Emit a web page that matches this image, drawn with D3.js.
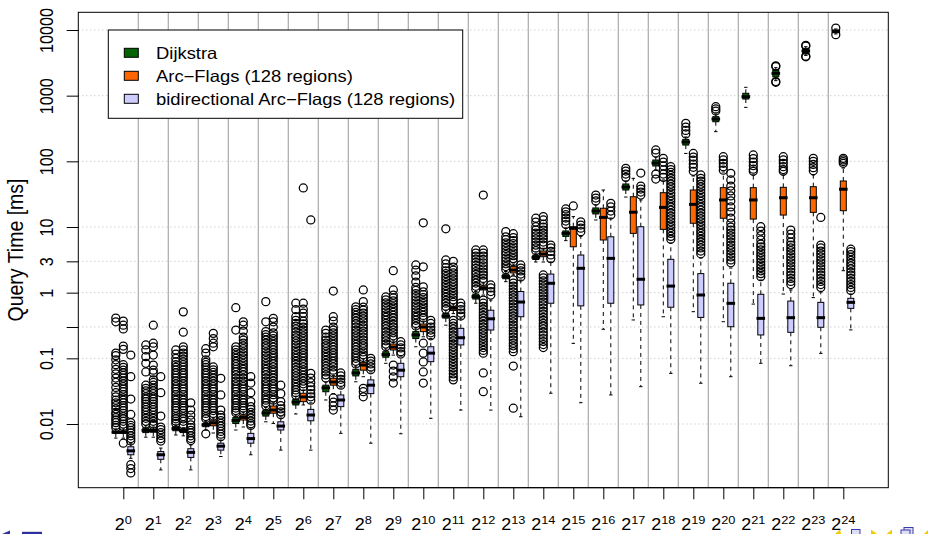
<!DOCTYPE html>
<html><head><meta charset="utf-8">
<script src="https://cdn.jsdelivr.net/npm/d3@7"></script>
<style>body{margin:0;background:#fff}svg{display:block}text{font-family:"Liberation Sans",Arial,Helvetica,sans-serif}</style>
</head><body><svg id="c" width="928" height="534"></svg>
<script>
// ---------- data ----------
const rankExponents = [0,1,2,3,4,5,6,7,8,9,10,11,12,13,14,15,16,17,18,19,20,21,22,23,24];
const seriesNames = ["Dijkstra", "Arc\u2212Flags (128 regions)", "bidirectional Arc\u2212Flags (128 regions)"];
const seriesColors = ["#006400", "#ff6600", "#ccccff"];
const yTickValues = [10000, 1000, 100, 10, 3, 1, 0.3, 0.1, 0.01];
const yTickLabels = ["10000", "1000", "100", "10", "3", "1", "", "0.1", "0.01"];
const yTitle = "Query Time [ms]";

// [lower whisker, Q1, median, Q3, upper whisker] in ms
const dijkstraStats = [
 [0.0061,0.0072,0.0075,0.0078,0.0084],[0.0063,0.0074,0.0080,0.0087,0.0094],[0.0068,0.0079,0.0085,0.0091,0.0097],
 [0.0081,0.0091,0.0097,0.0102,0.011],[0.0081,0.0102,0.0113,0.0125,0.0137],[0.0108,0.0132,0.0147,0.0163,0.0178],
 [0.0142,0.0195,0.0216,0.0238,0.0265],[0.0232,0.031,0.0355,0.039,0.0436],[0.044,0.054,0.060,0.068,0.076],
 [0.084,0.104,0.114,0.126,0.139],[0.15,0.20,0.227,0.255,0.29],[0.32,0.41,0.44,0.48,0.54],
 [0.69,0.80,0.87,0.95,1.04],[1.47,1.63,1.76,1.92,2.1],[2.93,3.2,3.45,3.7,4.0],
 [6.2,7.2,8.0,8.7,9.7],[12.8,15.8,17.5,19.5,21.6],[28.6,36.6,40.6,45.2,50.2],
 [73.8,84.9,94.2,104.8,116],[132,177,197,216,235],[283,401,441,479,526],
 [664,889,965,1087,1341],[1690,1940,2190,2460,2670],[4100,4310,4790,5260,5570],[8700,9100,9550,10000,10360]
];
const arcFlagsStats = [
 [0.0061,0.0072,0.0075,0.0078,0.0084],[0.0063,0.0075,0.0079,0.0083,0.009],[0.0066,0.0074,0.0079,0.0083,0.0088],
 [0.0073,0.0094,0.0104,0.0112,0.0123],[0.009,0.0115,0.0126,0.0137,0.0152],[0.0102,0.0146,0.0163,0.0188,0.021],
 [0.0195,0.0219,0.0258,0.0294,0.033],[0.029,0.039,0.0436,0.0496,0.055],[0.0525,0.066,0.079,0.086,0.098],
 [0.112,0.134,0.148,0.165,0.184],[0.213,0.255,0.30,0.333,0.37],[0.48,0.535,0.58,0.61,0.67],
 [0.92,1.1,1.17,1.26,1.4],[1.86,2.0,2.21,2.49,2.73],[2.93,3.53,3.87,4.31,4.75],
 [0.169,5.0,9.55,10.1,14.4],[0.277,6.34,14.0,19.3,36.6],[0.384,8.0,16.8,28.9,55.1],
 [0.43,9.2,19.9,33.3,52],[0.513,11.4,22.1,36.6,59.8],[0.361,13.6,25.8,39.7,68.8],
 [0.67,13.2,25.8,39.7,62],[0.953,15.2,27.9,40.2,62],[0.84,16.7,27.9,41.1,62],[2.16,17.7,37.6,50.2,79]
];
const biArcFlagsStats = [
 [0.0030,0.0034,0.0039,0.0045,0.0050],[0.0020,0.0029,0.0034,0.0038,0.0043],[0.0020,0.0031,0.0037,0.0042,0.0048],
 [0.0032,0.0040,0.0046,0.0051,0.0057],[0.0034,0.0051,0.0060,0.0072,0.0087],[0.0040,0.0081,0.0093,0.0108,0.0128],
 [0.0040,0.0112,0.0137,0.0167,0.021],[0.0072,0.0184,0.0232,0.0277,0.0355],[0.0051,0.029,0.039,0.047,0.062],
 [0.0071,0.0525,0.066,0.084,0.108],[0.0122,0.089,0.12,0.15,0.20],[0.0163,0.16,0.206,0.286,0.41],
 [0.0163,0.27,0.40,0.54,0.77],[0.0129,0.43,0.72,1.04,1.56],[0.0294,0.69,1.39,1.92,2.93],
 [0.0211,0.63,2.35,3.74,7.2],[0.0277,0.69,3.33,7.1,13.7],[0.037,0.65,1.6,10.1,25.8],
 [0.059,0.6,1.26,3.22,5.7],[0.0417,0.42,0.922,1.95,3.37],[0.0525,0.303,0.688,1.39,2.37],
 [0.084,0.227,0.406,0.944,1.56],[0.0771,0.249,0.416,0.745,1.1],[0.119,0.297,0.416,0.712,1.02],[0.271,0.577,0.712,0.82,0.953]
];

// outliers in ms
const dijkstraOutliers = [
 [0.41,0.36,0.12,0.11,0.095,0.08,0.068,0.058,0.05,0.043,0.036,0.03,0.026,0.023,0.021,0.019,0.017,0.015,0.014,0.0125,0.0115,0.0105,0.0095,0.0088],
 [0.16,0.134,0.106,0.084,0.062,0.039,0.035,0.032,0.029,0.026,0.024,0.022,0.02,0.018,0.0165,0.015,0.0135,0.0122,0.011,0.01],
 [0.134,0.116,0.1,0.088,0.08,0.073,0.066,0.06,0.055,0.05,0.045,0.041,0.037,0.034,0.031,0.028,0.025,0.023,0.021,0.019,0.0175,0.016,0.0145,0.013,0.012,0.011,0.0102],
 [0.14,0.12,0.095,0.087,0.08,0.073,0.066,0.06,0.055,0.05,0.045,0.041,0.037,0.034,0.031,0.028,0.025,0.023,0.021,0.019,0.0175,0.016,0.0145,0.013,0.012,0.0071],
 [0.59,0.27,0.15,0.135,0.122,0.11,0.1,0.09,0.082,0.075,0.068,0.062,0.056,0.05,0.045,0.041,0.037,0.034,0.031,0.028,0.025,0.023,0.021,0.019,0.0175,0.016,0.0148],
 [0.73,0.36,0.255,0.23,0.21,0.19,0.17,0.155,0.14,0.125,0.113,0.102,0.092,0.083,0.075,0.068,0.062,0.056,0.05,0.045,0.041,0.037,0.034,0.031,0.028,0.025,0.023,0.021,0.019],
 [0.69,0.55,0.43,0.38,0.34,0.31,0.28,0.25,0.225,0.205,0.185,0.167,0.15,0.135,0.122,0.11,0.1,0.09,0.081,0.073,0.066,0.06,0.054,0.049,0.044,0.04,0.036,0.033,0.03,0.0275],
 [0.27,0.24,0.21,0.19,0.17,0.155,0.14,0.126,0.114,0.103,0.093,0.084,0.076,0.069,0.062,0.056,0.05],
 [0.61,0.55,0.5,0.45,0.41,0.37,0.335,0.3,0.27,0.245,0.22,0.2,0.18,0.163,0.148,0.134,0.121,0.11,0.1,0.09,0.082],
 [0.86,0.78,0.7,0.63,0.57,0.51,0.46,0.42,0.38,0.34,0.31,0.28,0.25,0.225,0.205,0.185,0.165,0.15],
 [2.64,2.2,1.8,1.45,1.2,1.08,0.97,0.87,0.78,0.7,0.63,0.57,0.51,0.46,0.42,0.38,0.34,0.31],
 [9.4,3.15,2.75,2.4,2.15,1.95,1.75,1.58,1.42,1.28,1.15,1.04,0.94,0.85,0.76,0.69,0.62,0.56],
 [4.47,4.0,3.6,3.25,2.9,2.6,2.35,2.1,1.9,1.7,1.55,1.4,1.25,1.13],
 [8.5,7.1,6.4,5.75,5.2,4.7,4.2,3.8,3.4,3.05,2.75,2.5,2.25],
 [13.6,11.9,10.1,9.0,8.1,7.3,6.6,5.9,5.3,4.8,4.35],
 [18.8,17,15.4,13.7,12.3,10.9],
 [30.7,27.6,24.9],
 [78.3,71,64,57],
 [148.8,133.9,64.1,53.8],
 [379,333,295,261],
 [679,627,582],
 [],
 [2780,2850,1640,1600],
 [5700,5850,4000,3900],
 [10700,8500]
];
const arcFlagsOutliers = [
 [0.37,0.32,0.28,0.154,0.137,0.08,0.073,0.066,0.06,0.055,0.05,0.045,0.041,0.037,0.034,0.031,0.028,0.025,0.023,0.021,0.019,0.0175,0.016,0.0145,0.013,0.012,0.011,0.01,0.0092,0.0051],
 [0.32,0.17,0.15,0.112,0.079,0.066,0.06,0.047,0.043,0.039,0.035,0.032,0.029,0.026,0.024,0.022,0.02,0.018,0.0165,0.015,0.0135,0.0122,0.011,0.01,0.0095],
 [0.51,0.25,0.15,0.134,0.12,0.108,0.097,0.088,0.08,0.073,0.066,0.06,0.055,0.05,0.045,0.041,0.037,0.034,0.031,0.028,0.025,0.023,0.021,0.019,0.0175,0.016,0.0145,0.013,0.012,0.011,0.0097],
 [0.24,0.2,0.17,0.15,0.074,0.067,0.061,0.055,0.05,0.045,0.041,0.037,0.034,0.031,0.028,0.025,0.023,0.021,0.019,0.0175,0.016,0.0145,0.0132],
 [0.36,0.32,0.26,0.21,0.19,0.17,0.155,0.14,0.125,0.113,0.102,0.092,0.083,0.075,0.068,0.062,0.056,0.05,0.045,0.041,0.037,0.034,0.031,0.028,0.025,0.023,0.021,0.019,0.0175,0.016],
 [0.406,0.36,0.30,0.245,0.22,0.2,0.18,0.163,0.148,0.134,0.121,0.11,0.1,0.09,0.082,0.074,0.067,0.061,0.055,0.05,0.045,0.041,0.037,0.034,0.031,0.028,0.025,0.023],
 [39.3,0.69,0.56,0.49,0.43,0.37,0.335,0.3,0.27,0.245,0.22,0.2,0.18,0.163,0.148,0.134,0.121,0.11,0.1,0.09,0.082,0.074,0.067,0.061,0.055,0.05,0.045,0.041,0.037],
 [1.06,0.43,0.37,0.3,0.27,0.245,0.22,0.2,0.18,0.163,0.148,0.134,0.121,0.11,0.1,0.09,0.082,0.074,0.066,0.06,0.0249,0.0215,0.0188,0.0163],
 [1.1,0.73,0.6,0.54,0.49,0.44,0.4,0.36,0.32,0.29,0.26,0.235,0.21,0.19,0.17,0.155,0.14,0.125,0.113,0.103,0.035,0.031,0.026],
 [2.16,1.1,0.92,0.83,0.75,0.68,0.61,0.55,0.5,0.45,0.41,0.37,0.33,0.3,0.27,0.245,0.22,0.2,0.079,0.064,0.052,0.042],
 [11.6,2.48,1.23,1.03,0.93,0.84,0.75,0.68,0.61,0.55,0.5,0.45,0.41,0.17,0.12,0.088,0.062,0.042],
 [3.0,2.45,2.2,2.0,1.8,1.62,1.46,1.32,1.19,1.07,0.97,0.87,0.78,0.71,0.38,0.34,0.31,0.28,0.25,0.225,0.205,0.185,0.165,0.15,0.135,0.122,0.11,0.099,0.089,0.08,0.072,0.065,0.058,0.052,0.047],
 [30.7,4.47,4.0,3.6,3.2,2.85,2.55,2.3,2.05,1.85,1.65,1.48,0.77,0.69,0.62,0.56,0.5,0.45,0.41,0.37,0.33,0.3,0.27,0.245,0.22,0.2,0.18,0.162,0.146,0.132,0.12,0.06,0.031],
 [7.9,6.9,6.2,5.6,5.0,4.5,4.05,3.65,3.3,2.95,1.56,1.4,1.26,1.13,1.02,0.92,0.83,0.75,0.67,0.6,0.54,0.49,0.44,0.4,0.36,0.32,0.29,0.26,0.235,0.21,0.19,0.17,0.155,0.14,0.126,0.0764,0.0174],
 [14.4,12.8,11.1,10,9.0,8.1,7.3,6.6,5.9,5.3,1.86,1.68,1.51,1.36,1.22,1.1,0.99,0.89,0.8,0.72,0.65,0.58,0.52,0.47,0.42,0.38,0.34,0.31,0.28,0.25,0.225,0.2,0.18,0.162,0.146],
 [20.9],
 [],
 [],
 [111,97.6,85,74,64,57],
 [132,116,104,91,81,70.5],
 [117.6,105,93.3,83,73.3],
 [125,110,97.6,86,76,70.5],
 [117.6,105,93.3,83,75,70.5],
 [111,100,89.5,80,72],
 [111,105,99.4,93.3]
];
const biArcFlagsOutliers = [
 [0.112,0.0525,0.024,0.014,0.0105,0.0095,0.0088,0.008,0.0073,0.0066,0.006,0.0055,0.0024,0.0021,0.0018],
 [0.0525,0.03,0.0132,0.009,0.0082,0.0074,0.0067,0.006,0.0055],
 [0.021,0.0163,0.0137,0.0115,0.0097,0.0088,0.008,0.0073,0.0066,0.006,0.0056],
 [0.0496,0.0277,0.0163,0.0137,0.0125,0.0113,0.0102,0.0093,0.0085,0.0077,0.007,0.0064],
 [0.0525,0.042,0.03,0.0219,0.0184,0.0167,0.015,0.0136,0.0123,0.0111,0.0101,0.0095],
 [0.039,0.029,0.022,0.019,0.017,0.0153,0.0138],
 [12.8,0.059,0.05,0.0425,0.037,0.033,0.029,0.026,0.023],
 [0.06,0.054,0.048,0.043,0.039],
 [0.1,0.091,0.082,0.074,0.067],
 [0.179,0.16,0.144,0.126,0.116],
 [0.38,0.34,0.3,0.27,0.245,0.22],
 [0.69,0.62,0.55,0.49,0.44],
 [1.31,1.18,1.04,0.92],
 [2.64,2.37,2.14,1.92,1.73],
 [5.3,4.8,4.25,3.75,3.3],
 [12.0,10.7,9.6,8.5],
 [22.9,20.2,17.5,15.2],
 [66.4,42.1,37.9,34.1,30.7],
 [83,75,68,61,55,50,45,41,37,33,30,27,24.5,22,20,18,16.3,14.7,13.3,12,10.8,9.8,8.8,8.0,7.2,6.5],
 [62,55,50,45,41,37,33,30,27,24.5,22,20,18,16.3,14.7,13.3,12,10.8,9.8,8.8,8.0,7.2,6.5,5.9,5.3,4.8,4.3,3.9],
 [65.7,52,42,35.5,29.7,24.9,20.2,16.9,13.7,11.5,10,9.0,8.1,7.3,6.6,5.9,5.3,4.8,4.35,3.9,3.5,3.15,2.85],
 [10.1,8.66,7.4,6.34,5.5,5.0,4.5,4.05,3.65,3.3,2.95,2.65,2.4,2.15,1.95,1.75],
 [9.0,7.8,6.8,5.9,5.3,4.8,4.35,3.9,3.5,3.15,2.85,2.55,2.3,2.05,1.85,1.65,1.48,1.33],
 [14.0,5.3,4.8,4.3,3.9,3.5,3.15,2.85,2.55,2.3,2.05,1.85,1.65,1.48,1.33,1.2],
 [4.6,4.2,3.8,3.45,3.1,2.8,2.55,2.3,2.05,1.85,1.65,1.48,1.33,1.2,1.08]
];

const seriesStats = [dijkstraStats, arcFlagsStats, biArcFlagsStats];
const seriesOutliers = [dijkstraOutliers, arcFlagsOutliers, biArcFlagsOutliers];

// ---------- layout ----------
const P = {left: 78.3, right: 888.3, top: 12.3, bottom: 487.7};
const SX = 1.13; // horizontal text stretch of the reference
const svg = d3.select("#c");
svg.append("rect").attr("width", 928).attr("height", 534).attr("fill", "#fff");

const y = d3.scaleLog().domain([0.01, 10000]).range([424, 30]);
const x = d3.scaleLinear().domain([0, 24]).range([123.3, 843.3]);
const offsets = [-7.5, 0, 7.5];
const boxHalf = 3, medHalf = 4.3, stapleHalf = 1.7, outR = 4;

// horizontal dotted grid
svg.append("g").selectAll("line").data(yTickValues).join("line")
  .attr("x1", P.left).attr("x2", P.right)
  .attr("y1", d => y(d)).attr("y2", d => y(d))
  .attr("stroke", "#b8b8b8").attr("stroke-width", 1).attr("stroke-dasharray", "1,3");

// vertical separators between groups
svg.append("g").selectAll("line").data(rankExponents.slice(0, -1)).join("line")
  .attr("x1", (d, i) => (x(i) + x(i + 1)) / 2).attr("x2", (d, i) => (x(i) + x(i + 1)) / 2)
  .attr("y1", P.top).attr("y2", P.bottom)
  .attr("stroke", "#aaaaaa").attr("stroke-width", 1.2);

// boxplots
const gb = svg.append("g");
rankExponents.forEach((r, i) => {
  seriesStats.forEach((stats, s) => {
    const [lo, q1, med, q3, hi] = stats[i];
    const cx = x(i) + offsets[s];
    const g = gb.append("g");
    g.append("line").attr("x1", cx).attr("x2", cx).attr("y1", y(q3)).attr("y2", y(hi))
      .attr("stroke", "#000").attr("stroke-dasharray", "4,4");
    g.append("line").attr("x1", cx).attr("x2", cx).attr("y1", y(q1)).attr("y2", y(lo))
      .attr("stroke", "#000").attr("stroke-dasharray", "4,4");
    [lo, hi].forEach(v => g.append("line").attr("x1", cx - stapleHalf).attr("x2", cx + stapleHalf)
      .attr("y1", y(v)).attr("y2", y(v)).attr("stroke", "#000"));
    g.append("rect").attr("x", cx - boxHalf).attr("width", 2 * boxHalf)
      .attr("y", y(q3)).attr("height", Math.max(0.5, y(q1) - y(q3)))
      .attr("fill", seriesColors[s]).attr("stroke", "#000").attr("stroke-width", 1);
    g.append("line").attr("x1", cx - medHalf).attr("x2", cx + medHalf)
      .attr("y1", y(med)).attr("y2", y(med)).attr("stroke", "#000").attr("stroke-width", 3);
    g.selectAll("circle").data(seriesOutliers[s][i]).join("circle")
      .attr("cx", cx).attr("cy", d => y(d)).attr("r", outR)
      .attr("fill", "none").attr("stroke", "#000").attr("stroke-width", 1.25);
  });
});

// legend
const lg = svg.append("g");
lg.append("rect").attr("x", 108.3).attr("y", 30).attr("width", 354.4).attr("height", 88.3)
  .attr("fill", "#fff").attr("stroke", "#000");
seriesNames.forEach((name, s) => {
  const cy = 52.8 + 23 * s;
  lg.append("rect").attr("x", 124.3).attr("y", cy - 4.5).attr("width", 14).attr("height", 9)
    .attr("fill", seriesColors[s]).attr("stroke", "#000");
  lg.append("text").attr("transform", `translate(156,${cy + 5.8}) scale(${SX},1)`)
    .attr("font-size", 16.3).attr("fill", "#000").text(name);
});

// plot border
svg.append("rect").attr("x", P.left).attr("y", P.top)
  .attr("width", P.right - P.left).attr("height", P.bottom - P.top)
  .attr("fill", "none").attr("stroke", "#000").attr("stroke-width", 1);

// y axis
const ya = svg.append("g").attr("transform", `translate(${P.left},0)`)
  .call(d3.axisLeft(y).tickValues(yTickValues).tickSize(11.6)
    .tickFormat(d => yTickLabels[yTickValues.indexOf(d)]));
ya.select(".domain").remove();
ya.selectAll(".tick line").attr("stroke", "#000");
ya.selectAll(".tick text").attr("x", null).attr("dy", null)
  .attr("text-anchor", "middle").attr("fill", "#000")
  .attr("font-size", 16.2).attr("font-family", '"Liberation Sans",Arial,sans-serif')
  .attr("transform", `translate(-25.6,0) scale(${SX},1) rotate(-90)`);

svg.append("text").attr("transform", `translate(23,250) scale(${SX},1) rotate(-90)`)
  .attr("text-anchor", "middle").attr("font-size", 19.5).attr("fill", "#000").text(yTitle);

// x axis
const xa = svg.append("g").attr("transform", `translate(0,${P.bottom})`)
  .call(d3.axisBottom(x).tickValues(rankExponents.map((r, i) => i)).tickSize(11.6).tickFormat(""));
xa.select(".domain").attr("stroke", "#000").attr("d", `M${x(0)},0H${x(24)}`);
xa.selectAll(".tick line").attr("stroke", "#000");
const xl = svg.append("g");
rankExponents.forEach((r, i) => {
  const t = xl.append("text").attr("transform", `translate(${x(i)},530.4) scale(1.1,1)`)
    .attr("text-anchor", "middle").attr("fill", "#000").attr("font-size", 16.3);
  t.append("tspan").text("2");
  t.append("tspan").attr("dy", -6.7).attr("font-size", 11.6).text(r);
});

// beamer navigation symbols (decoration at the slide corners)
const nav = svg.append("g");
nav.append("polygon").attr("points", "2,534 10,530.5 10,534").attr("fill", "#2e2e9e");
nav.append("rect").attr("x", 22).attr("y", 531.8).attr("width", 20).attr("height", 2.2).attr("fill", "#2e2e9e");
nav.append("polygon").attr("points", "835,534 840,529.5 841,534").attr("fill", "#f2cc00");
nav.append("rect").attr("x", 851.5).attr("y", 529.5).attr("width", 8.5).attr("height", 6).attr("fill", "#ddddf5").attr("stroke", "#3a3aa8");
nav.append("polygon").attr("points", "871,529.5 877,534 871,534").attr("fill", "#f2cc00");
nav.append("polygon").attr("points", "892,529.5 886.5,534 892,534").attr("fill", "#f2cc00");
nav.append("rect").attr("x", 904).attr("y", 527.5).attr("width", 9).attr("height", 7).attr("fill", "#ddddf5").attr("stroke", "#3a3aa8");
nav.append("rect").attr("x", 901).attr("y", 530).attr("width", 9).attr("height", 5).attr("fill", "#ddddf5").attr("stroke", "#3a3aa8");
nav.append("polygon").attr("points", "924,534 928,530 928,534").attr("fill", "#f2cc00");
</script></body></html>
